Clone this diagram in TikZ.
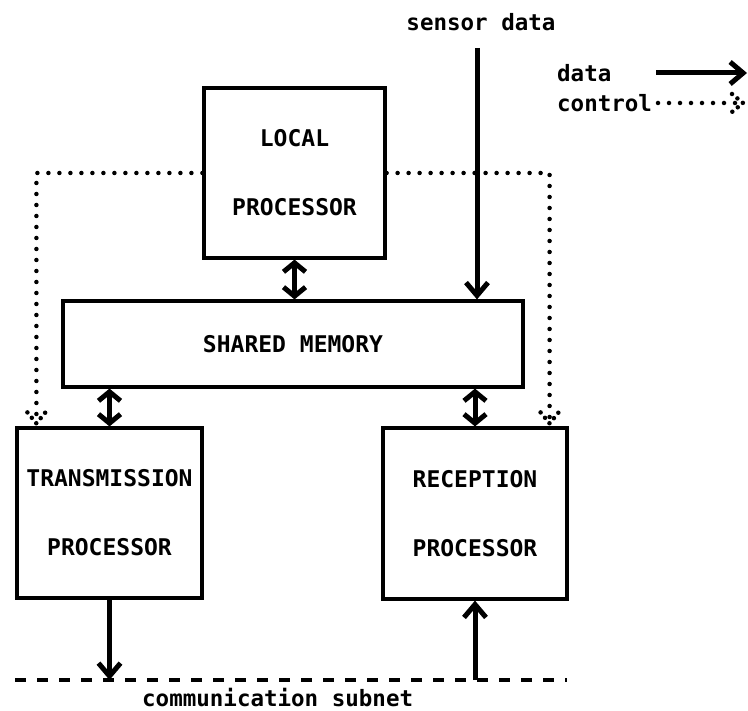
\documentclass[tikz,border=0pt]{standalone}
\usepackage{fontspec}
\newfontfamily\labfont{DejaVu Sans Mono}
\usetikzlibrary{arrows.meta,calc}
\begin{document}
\begin{tikzpicture}[x=1pt,y=-1pt,
  unitbox/.style={draw,line width=3.2pt,rectangle,inner sep=0pt,align=center,
    font=\labfont\bfseries\fontsize{23}{69}\selectfont},
  dblarrow/.style={line width=5pt,{Straight Barb[length=9pt,width=22pt]}-{Straight Barb[length=9pt,width=22pt]}},
  dataarrow/.style={line width=5pt,-{Straight Barb[length=13pt,width=22pt]}},
  ctrl/.style={line width=4.5pt,line cap=round,dash pattern=on 0pt off 11pt},
  chev/.style={line width=4.5pt,line cap=round,dash pattern=on 0pt off 7pt},
  subnet/.style={line width=4pt,dash pattern=on 11pt off 11pt},
  lowtext/.style={font=\labfont\bfseries\fontsize{22.5}{26}\selectfont,inner sep=0pt}
]
\useasboundingbox (0,0) rectangle (748,711);

% processing units
\node[unitbox,minimum width=181pt,minimum height=170pt] (local) at (294.5,173) {LOCAL\\PROCESSOR};
\node[unitbox,minimum width=460pt,minimum height=86pt] (shared) at (293,344) {SHARED MEMORY};
\node[unitbox,minimum width=185pt,minimum height=170pt] (trans) at (109.5,513) {TRANSMISSION\\PROCESSOR};
\node[unitbox,minimum width=184pt,minimum height=171pt] (recep) at (475,513.5) {RECEPTION\\PROCESSOR};

% labels
\node[lowtext] (sensor) at (481,22) {sensor data};
\node[lowtext,anchor=west] (ldata) at (557,73) {data};
\node[lowtext,anchor=west] (lctrl) at (557,103) {control};
\node[lowtext,anchor=west] (netlabel) at (142,698) {communication subnet};

% free ends
\coordinate (sensorTop) at (477,48);
\coordinate (netL) at (15,680);
\coordinate (netR) at (567,680);
\coordinate (dataA) at (656,73);
\coordinate (dataB) at (747,73);
\coordinate (ctrlA) at (658,103);
\coordinate (ctrlB) at (743,103);
\coordinate (ctL) at ($(trans.north west)+(21,-3)$);
\coordinate (ctR) at ($(recep.north east)+(-19,-3)$);

% communication subnet
\draw[subnet] (netL) -- (netR);

% data paths
\draw[dblarrow] (local.south) -- (local.south |- shared.north);
\draw[dblarrow] (trans.north |- shared.south) -- (trans.north);
\draw[dblarrow] (recep.north |- shared.south) -- (recep.north);
\draw[dataarrow] (sensorTop) -- (sensorTop |- shared.north);
\draw[dataarrow] (trans.south) -- (trans.south |- netL);
\draw[dataarrow] (recep.south |- netR) -- (recep.south);

% control paths
\draw[ctrl] (local.west) -| (ctL);
\draw[ctrl] (local.east) -| (ctR);
\draw[chev] ($(ctL)+(-9,-11)$) -- (ctL) -- ($(ctL)+(9,-11)$);
\draw[chev] ($(ctR)+(-9,-11)$) -- (ctR) -- ($(ctR)+(9,-11)$);

% legend
\draw[dataarrow] (dataA) -- (dataB);
\draw[ctrl] (ctrlA) -- (ctrlB);
\draw[chev] ($(ctrlB)+(-11,-9)$) -- (ctrlB) -- ($(ctrlB)+(-11,9)$);
\end{tikzpicture}
\end{document}
